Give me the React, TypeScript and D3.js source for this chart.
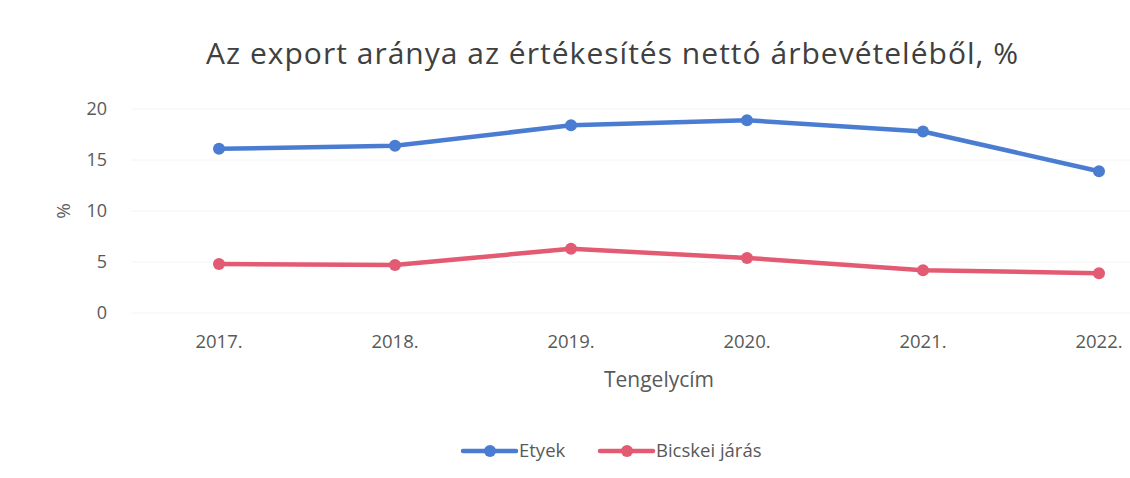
import React from "react";
import * as d3 from "d3";

const categories = ["2017.", "2018.", "2019.", "2020.", "2021.", "2022."];
const etyek = [16.1, 16.4, 18.4, 18.9, 17.8, 13.9];
const bicske = [4.8, 4.7, 6.3, 5.4, 4.2, 3.9];
const yTicks = [0, 5, 10, 15, 20];
const seriesNames = ["Etyek", "Bicskei járás"];
const colors = ["#4a7dd2", "#e35b73"];

const W = 1130;
const H = 478;
const FONT = "'Open Sans', 'Noto Sans', sans-serif";

export default function App() {
  const x = d3.scalePoint<string>().domain(categories).range([219, 1099]);
  const y = d3.scaleLinear().domain([0, 20]).range([313, 109]);
  const line = d3
    .line<number>()
    .x((_, i) => x(categories[i]) as number)
    .y((d) => y(d));
  const series = [etyek, bicske];
  const step = x.step();
  const plotLeft = (x(categories[0]) as number) - step / 2;
  const plotRight = (x(categories[categories.length - 1]) as number) + step / 2;

  return (
    <svg
      width={W}
      height={H}
      style={{ position: "absolute", left: 0, top: 0, background: "#fff" }}
      fontFamily={FONT}
    >
      <rect x={0} y={0} width={W} height={H} fill="#fff" />
      <text
        x={612}
        y={64}
        textAnchor="middle"
        fontSize={30}
        fill="#404040"
        textLength={812}
        lengthAdjust="spacing"
      >
        Az export aránya az értékesítés nettó árbevételéből, %
      </text>
      {yTicks.map((t) => (
        <g key={t}>
          <line x1={plotLeft} x2={plotRight} y1={y(t)} y2={y(t)} stroke="#f4f4f4" strokeWidth={1} />
          <text x={107} y={y(t)} dy="0.35em" textAnchor="end" fontSize={18} fill="#595959">
            {t}
          </text>
        </g>
      ))}
      <text
        transform={`translate(70,${y(10)}) rotate(-90)`}
        textAnchor="middle"
        fontSize={19}
        fill="#595959"
      >
        %
      </text>
      {categories.map((c) => (
        <text key={c} x={x(c)} y={348} textAnchor="middle" fontSize={18.5} fill="#595959">
          {c}
        </text>
      ))}
      <text x={(plotLeft + plotRight) / 2} y={387} textAnchor="middle" fontSize={21} fill="#595959">
        Tengelycím
      </text>
      {series.map((s, si) => (
        <g key={si}>
          <path d={line(s) || ""} fill="none" stroke={colors[si]} strokeWidth={4.5} strokeLinejoin="round" strokeLinecap="round" />
          {s.map((v, i) => (
            <circle key={i} cx={x(categories[i])} cy={y(v)} r={6} fill={colors[si]} />
          ))}
        </g>
      ))}
      {seriesNames.map((n, i) => {
        const lx = i === 0 ? 463 : 600;
        return (
          <g key={n}>
            <line x1={lx} x2={lx + 53} y1={451} y2={451} stroke={colors[i]} strokeWidth={4.5} strokeLinecap="round" />
            <circle cx={lx + 27} cy={451} r={6} fill={colors[i]} />
            <text x={lx + 56} y={451} dy="0.35em" fontSize={18.5} fill="#595959">
              {n}
            </text>
          </g>
        );
      })}
    </svg>
  );
}
